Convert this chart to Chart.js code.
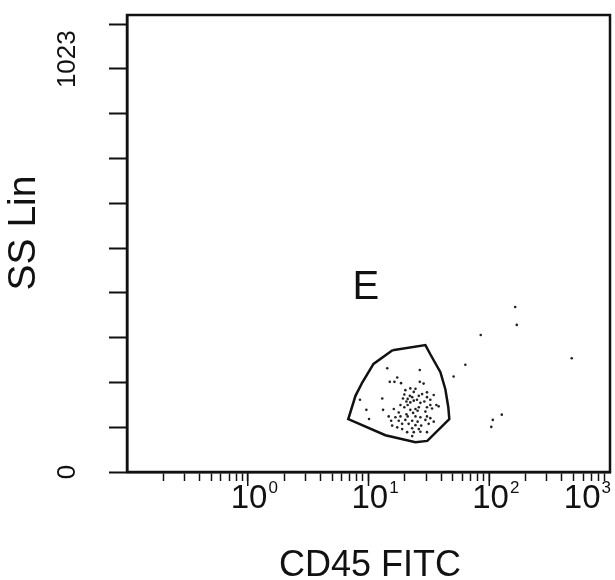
<!DOCTYPE html>
<html>
<head>
<meta charset="utf-8">
<title>CD45 FITC / SS Lin</title>
<script src="https://cdn.jsdelivr.net/npm/chart.js@4.4.1/dist/chart.umd.min.js"></script>
<style>
  html, body { margin: 0; padding: 0; background: #fff; }
  .chartBox { width: 615px; height: 580px; }
</style>
</head>
<body>
<div class="chartBox">
  <canvas id="myChart" width="615" height="580"></canvas>
</div>
<script>
// gate "E" outline, CD45 FITC (log) vs SS Lin
const gateX = [15.8, 29.6, 32.5, 39.4, 43.3, 45.8, 46.7, 30.7, 24.5, 13.8, 6.8, 7.8, 8.9, 11.0, 15.8];
const gateY = [278, 290, 269, 228, 189, 148, 121, 71, 68, 84, 121, 174, 205, 247, 278];

// events
const cellX = [
  14.3, 26.6, 15.0, 16.4, 17.3, 18.6, 26.6, 28.6, 22.2, 24.5, 20.2, 30.5, 23.7, 19.8, 22.0, 26.1,
  27.8, 19.3, 21.1, 23.0, 25.2, 32.5, 30.5, 34.7, 13.0, 8.5, 20.6, 22.2, 23.7, 26.9, 29.0, 32.5,
  36.5, 38.1, 18.4, 21.1, 19.8, 24.5, 26.1, 30.5, 33.6, 9.6, 13.2, 16.2, 22.2, 25.5, 29.6, 23.4,
  20.6, 17.8, 14.7, 16.7, 18.4, 21.1, 24.5, 26.9, 30.5, 32.5, 10.1, 15.4, 17.8, 20.2, 23.0, 25.5,
  29.6, 34.7, 19.0, 21.5, 24.5, 27.3, 31.5, 15.7, 17.3, 23.0, 26.1, 19.0, 20.9, 23.7, 26.9, 30.5,
  23.0,
  164, 169, 85, 482, 63.4, 50.7, 127, 107, 104
];
const cellY = [
  237, 233, 206, 206, 216, 203, 206, 202, 191, 190, 187, 182, 183, 177, 174, 174,
  178, 168, 167, 171, 165, 165, 171, 176, 168, 165, 161, 159, 163, 158, 161, 153,
  153, 150, 153, 153, 148, 144, 148, 148, 145, 142, 142, 144, 142, 140, 138, 135,
  132, 136, 127, 125, 127, 127, 127, 125, 127, 123, 121, 117, 117, 119, 117, 115,
  119, 115, 110, 110, 107, 106, 110, 106, 102, 100, 98, 98, 91, 91, 92, 91,
  82,
  377, 336, 313, 260, 245, 218, 131, 119, 103
];

const xTickValues = [
  0.2, 0.3, 0.4, 0.5, 0.6, 0.7, 0.8, 0.9,
  1, 2, 3, 4, 5, 6, 7, 8, 9,
  10, 20, 30, 40, 50, 60, 70, 80, 90,
  100, 200, 300, 400, 500, 600, 700, 800, 900
];
const xDecades = [0, 1, 2, 3];
const yTickValues = [0, 102.3, 204.6, 306.9, 409.2, 511.5, 613.8, 716.1, 818.4, 920.7, 1023];
const yTickLabels = ["0", "1023"];
const gateLabel = { text: "E", x: 9.5, y: 427 };

const font = "'Liberation Sans', Arial, sans-serif";
const ink = "#111";

const toPoints = (xs, ys) => xs.map((x, i) => ({ x: x, y: ys[i] }));

const frameAndText = {
  id: "frameAndText",
  afterDraw(chart) {
    const { ctx, chartArea: a, scales: { x, y } } = chart;
    ctx.save();
    ctx.strokeStyle = ink;
    ctx.fillStyle = ink;

    // box around plot
    ctx.lineWidth = 2.5;
    ctx.strokeRect(a.left, a.top, a.right - a.left, a.bottom - a.top);

    // longer marks at decades
    ctx.lineWidth = 1.5;
    [1, 10, 100].forEach(v => {
      const px = x.getPixelForValue(v);
      ctx.beginPath();
      ctx.moveTo(px, a.bottom);
      ctx.lineTo(px, a.bottom + 14);
      ctx.stroke();
    });

    // x labels 10^n
    xDecades.forEach(n => {
      let left = x.getPixelForValue(Math.pow(10, n)) - 17;
      ctx.font = `33px ${font}`;
      const w = ctx.measureText("10").width;
      ctx.font = `17px ${font}`;
      const ws = ctx.measureText(String(n)).width;
      if (left + w + ws > a.right) left = a.right - w - ws;
      ctx.textAlign = "left";
      ctx.textBaseline = "alphabetic";
      ctx.font = `33px ${font}`;
      ctx.fillText("10", left, a.bottom + 36);
      ctx.font = `17px ${font}`;
      ctx.fillText(String(n), left + w + 1, a.bottom + 21);
    });

    // y labels, rotated
    const yLabel = (text, size, bx, cy) => {
      ctx.save();
      ctx.translate(bx, cy);
      ctx.rotate(-Math.PI / 2);
      ctx.font = `${size}px ${font}`;
      ctx.textAlign = "center";
      ctx.textBaseline = "alphabetic";
      ctx.fillText(text, 0, 0);
      ctx.restore();
    };
    yLabel(yTickLabels[0], 26, 75, y.getPixelForValue(0));
    yLabel(yTickLabels[1], 26, 75, y.getPixelForValue(1023) + 35);
    yLabel("SS Lin", 39, 35, 233);

    // x title
    ctx.font = `36px ${font}`;
    ctx.textAlign = "center";
    ctx.textBaseline = "alphabetic";
    ctx.fillText("CD45 FITC", 370, 576);

    // gate name
    ctx.font = `40px ${font}`;
    ctx.fillText(gateLabel.text, x.getPixelForValue(gateLabel.x), y.getPixelForValue(gateLabel.y) + 14);
    ctx.restore();
  }
};

const config = {
  type: "scatter",
  data: {
    datasets: [
      {
        label: "E",
        type: "line",
        data: toPoints(gateX, gateY),
        borderColor: ink,
        borderWidth: 2.5,
        pointRadius: 0,
        fill: false,
        tension: 0
      },
      {
        label: "events",
        data: toPoints(cellX, cellY),
        backgroundColor: "#222",
        borderWidth: 0,
        pointRadius: 1.3
      }
    ]
  },
  options: {
    responsive: false,
    animation: false,
    events: [],
    layout: { padding: { left: 109, top: 15, right: 5, bottom: 99 } },
    plugins: { legend: { display: false }, tooltip: { enabled: false } },
    scales: {
      x: {
        type: "logarithmic",
        min: 0.1,
        max: 1000,
        afterBuildTicks: s => { s.ticks = xTickValues.map(v => ({ value: v })); },
        ticks: { display: false },
        grid: { drawOnChartArea: false, tickLength: 9, tickWidth: 1.5, tickColor: ink },
        border: { color: ink, width: 2.5 }
      },
      y: {
        type: "linear",
        min: 0,
        max: 1044,
        afterBuildTicks: s => { s.ticks = yTickValues.map(v => ({ value: v })); },
        ticks: { display: false },
        grid: { drawOnChartArea: false, tickLength: 18, tickWidth: 2, tickColor: ink },
        border: { color: ink, width: 2.5 }
      }
    }
  },
  plugins: [frameAndText]
};

new Chart(document.getElementById("myChart"), config);
</script>
</body>
</html>
